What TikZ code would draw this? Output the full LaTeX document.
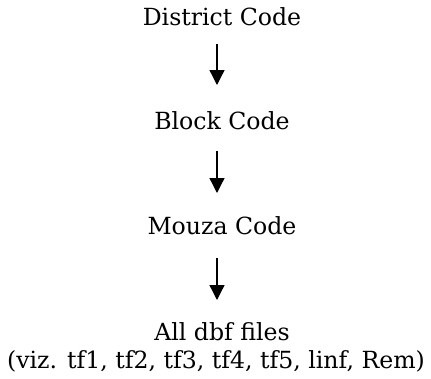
\documentclass[tikz,border=0pt]{standalone}
\usepackage{fontspec}
\setmainfont{DejaVu Serif}
\usetikzlibrary{arrows.meta}
\begin{document}
\begin{tikzpicture}[x=1pt,y=-1pt,
  label/.style={anchor=base,inner sep=0pt,font=\fontsize{23.6}{28}\selectfont},
  flow/.style={line width=1.3pt,-{Triangle[width=15pt,length=15pt]}}]
\useasboundingbox (0,0) rectangle (431,378);
\node[label] (district) at (222,25) {District Code};
\node[label] (block) at (222,129) {Block Code};
\node[label] (mouza) at (222,234) {Mouza Code};
\node[label] (dbf) at (222,340) {All dbf files};
\node[label] (viz) at (216,368) {(viz. tf1, tf2, tf3, tf4, tf5, linf, Rem)};
\coordinate (a1s) at (217,44);  \coordinate (a1e) at (217,85);
\coordinate (a2s) at (217,151); \coordinate (a2e) at (217,193);
\coordinate (a3s) at (217,258); \coordinate (a3e) at (217,300);
\draw[flow] (a1s) -- (a1e);
\draw[flow] (a2s) -- (a2e);
\draw[flow] (a3s) -- (a3e);
\end{tikzpicture}
\end{document}
